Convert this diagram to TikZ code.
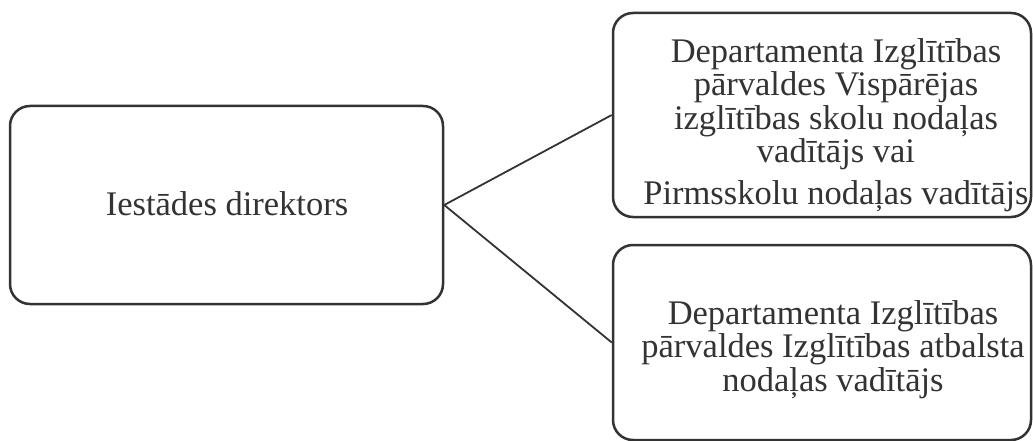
\documentclass[tikz,border=0pt]{standalone}
\usepackage{fontspec}
\setmainfont{Liberation Serif}
\definecolor{ink}{HTML}{333333}
\begin{document}
\begin{tikzpicture}[x=1pt,y=-1pt,
  box/.style={draw=ink, line width=2.5pt, rounded corners=20pt, inner sep=0pt},
  label/.style={align=center, text=ink, inner sep=0pt, font=\fontsize{34.5}{33.5}\selectfont},
  link/.style={draw=ink, line width=1.8pt}]
\useasboundingbox (0,0) rectangle (1033,441);
\node[box, minimum width=433pt, minimum height=198pt] (dir) at (226.5,205) {};
\node[box, minimum width=418pt, minimum height=204pt] (top) at (822,115) {};
\node[box, minimum width=418pt, minimum height=195pt] (bot) at (822,342.5) {};
\node[label, anchor=base] (dirt) at (227,215) {Iestādes direktors};
\node[label] (topt) at (836,125)
  {Departamenta Izglītības\\pārvaldes Vispārējas\\izglītības skolu nodaļas\\vadītājs vai\\[8.5pt]Pirmsskolu nodaļas vadītājs};
\node[label] (bott) at (833,349.5)
  {Departamenta Izglītības\\pārvaldes Izglītības atbalsta\\nodaļas vadītājs};
\draw[link] (dir.east) -- (top.west);
\draw[link] (dir.east) -- (bot.west);
\end{tikzpicture}
\end{document}
